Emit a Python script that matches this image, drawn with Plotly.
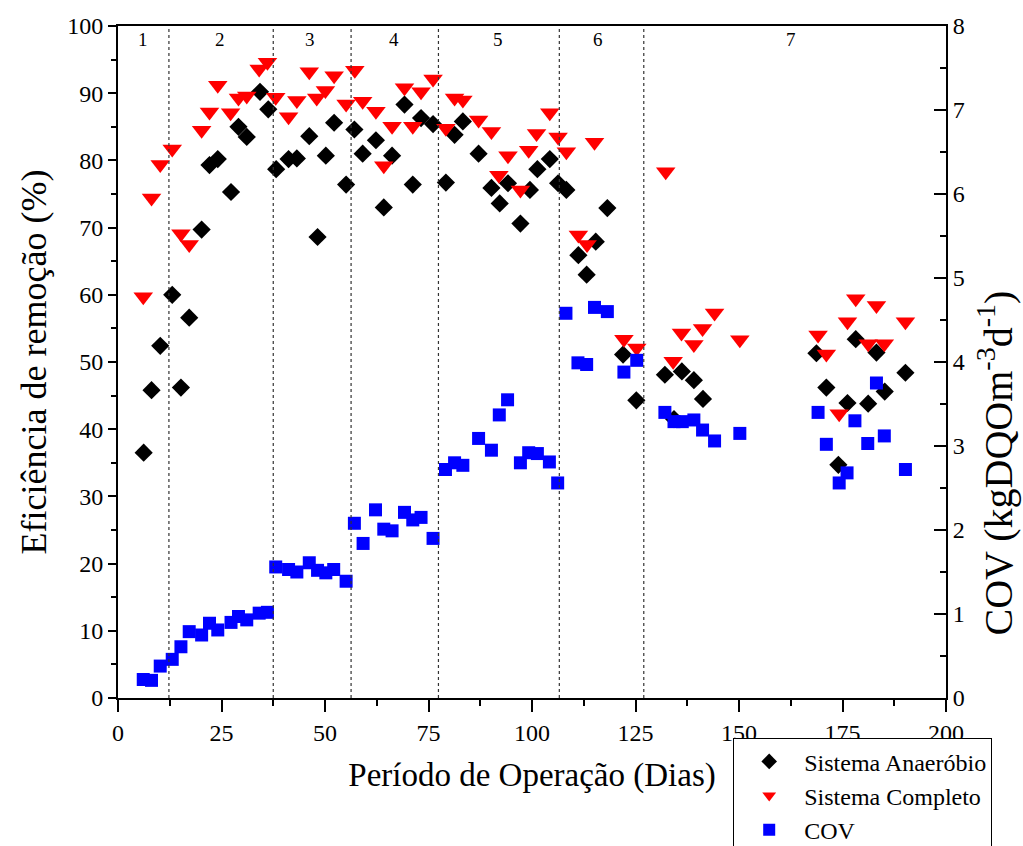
import plotly.graph_objects as go

# ---- data ----
anaer_days = [6.2, 8.1, 10.2, 13.1, 15.2, 17.2, 20.2, 22.1, 24.1, 27.3, 29.1, 31.1, 34.3, 36.3,
              38.2, 41.2, 43.2, 46.2, 48.2, 50.2, 52.2, 55.1, 57.1, 59.1, 62.3, 64.2, 66.2, 69.2,
              71.2, 73.2, 76.1, 79.2, 81.3, 83.3, 87.1, 90.2, 92.2, 94.2, 97.2, 99.5, 101.3, 104.3,
              106.3, 108.3, 111.2, 113.2, 115.4, 118.2, 122.0, 125.2, 132.1, 134.3, 136.2, 139.1,
              141.3, 168.7, 171.1, 174.0, 176.2, 178.2, 181.2, 183.2, 185.2, 190.2]
anaer_eff = [36.5, 45.8, 52.4, 60.0, 46.2, 56.6, 69.7, 79.3, 80.2, 75.3, 85.0, 83.5, 90.2, 87.6,
             78.7, 80.2, 80.3, 83.6, 68.6, 80.7, 85.6, 76.4, 84.6, 81.0, 83.0, 73.0, 80.7, 88.3,
             76.4, 86.3, 85.4, 76.7, 83.8, 85.8, 81.0, 75.9, 73.6, 76.6, 70.6, 75.6, 78.7, 80.2,
             76.6, 75.6, 65.9, 63.0, 67.9, 72.9, 51.1, 44.3, 48.1, 41.5, 48.6, 47.3,
             44.5, 51.3, 46.2, 34.7, 43.9, 53.4, 43.8, 51.4, 45.6, 48.4]

comp_days = [6.1, 8.1, 10.2, 13.1, 15.2, 17.2, 20.2, 22.1, 24.1, 27.2, 29.1, 31.1, 34.1, 36.1,
             38.1, 41.2, 43.2, 46.2, 48.0, 50.1, 52.2, 55.1, 57.2, 59.1, 62.3, 64.2, 66.2, 69.2,
             71.2, 73.2, 76.1, 79.2, 81.3, 83.3, 87.1, 90.2, 92.0, 94.2, 97.2, 99.2, 101.1, 104.3,
             106.3, 108.3, 111.2, 113.3, 115.1, 122.2, 125.3, 132.3, 134.1, 136.1, 139.1, 141.2,
             144.1, 150.2, 169.1, 171.1, 174.2, 176.2, 178.2, 181.2, 183.2, 185.1, 190.2]
comp_eff = [59.7, 74.4, 79.4, 81.7, 69.1, 67.5, 84.5, 87.2, 91.2, 87.1, 89.3, 89.6, 93.6, 94.6,
            89.4, 86.5, 88.9, 93.2, 89.3, 90.4, 92.6, 88.4, 93.4, 88.8, 87.3, 79.2, 85.1, 90.8,
            85.1, 90.2, 92.1, 84.8, 89.3, 89.0, 86.0, 84.3, 77.8, 80.7, 75.6, 81.5, 84.0, 87.1,
            83.5, 81.3, 68.9, 67.5, 82.7, 53.4, 52.1, 78.3, 50.1, 54.3, 52.6, 55.0,
            57.3, 53.3, 54.0, 51.2, 42.3, 56.0, 59.4, 52.7, 58.4, 52.7, 56.0]

cov_days = [6.1, 8.1, 10.2, 13.1, 15.2, 17.2, 20.2, 22.1, 24.1, 27.3, 29.1, 31.1, 34.1, 36.1,
            38.1, 41.2, 43.2, 46.2, 48.2, 50.2, 52.1, 55.1, 57.1, 59.2, 62.2, 64.2, 66.2, 69.2,
            71.2, 73.2, 76.1, 79.1, 81.3, 83.3, 87.1, 90.2, 92.1, 94.1, 97.2, 99.2, 101.3, 104.2,
            106.2, 108.2, 111.1, 113.2, 115.1, 118.2, 122.2, 125.3, 132.1, 134.3, 136.3, 139.1,
            141.2, 144.1, 150.2, 169.1, 171.1, 174.2, 176.1, 178.0, 181.1, 183.2, 185.1, 190.2]
cov_vals = [0.22, 0.21, 0.38, 0.46, 0.61, 0.79, 0.75, 0.89, 0.81, 0.90, 0.97, 0.93, 1.01, 1.02,
            1.56, 1.53, 1.50, 1.61, 1.52, 1.49, 1.53, 1.39, 2.08, 1.84, 2.24, 2.01, 1.99, 2.21,
            2.12, 2.15, 1.90, 2.72, 2.80, 2.77, 3.09, 2.95, 3.37, 3.55, 2.80, 2.92, 2.91, 2.81,
            2.56, 4.58, 3.99, 3.97, 4.65, 4.60, 3.88, 4.02, 3.40, 3.29, 3.29, 3.31,
            3.19, 3.06, 3.15, 3.40, 3.02, 2.56, 2.68, 3.30, 3.03, 3.75, 3.12, 2.72]

phase_bounds = [12.3, 37.5, 56.3, 77.4, 106.6, 127.0]
phase_labels = ["1", "2", "3", "4", "5", "6", "7"]
phase_label_x = [6.0, 24.7, 46.4, 66.7, 91.7, 116.0, 162.5]

FONT = "Liberation Serif"

fig = go.Figure()
fig.add_trace(go.Scatter(x=anaer_days, y=anaer_eff, mode="markers", name="Sistema Anaeróbio",
                         marker=dict(symbol="diamond", size=14, color="black")))
fig.add_trace(go.Scatter(x=comp_days, y=comp_eff, mode="markers", name="Sistema Completo",
                         marker=dict(symbol="triangle-down", size=17, color="#ff0000")))
fig.add_trace(go.Scatter(x=cov_days, y=cov_vals, mode="markers", name="COV", yaxis="y2",
                         marker=dict(symbol="square", size=13, color="#0000ff")))

for b in phase_bounds:
    fig.add_shape(type="line", x0=b, x1=b, y0=0, y1=100, xref="x", yref="y",
                  line=dict(color="#333333", width=1.2, dash="dot"))

for t, xv in zip(phase_labels, phase_label_x):
    fig.add_annotation(x=xv, y=98, xref="x", yref="y", text=t, showarrow=False,
                       font=dict(family=FONT, size=19, color="black"))

# right-axis title (placed as annotation to match the reference position)
fig.add_annotation(x=1.060, y=0.35, xref="paper", yref="paper",
                   text="COV (kgDQOm<sup>-3</sup>d<sup>-1</sup>)", textangle=-90,
                   showarrow=False, xanchor="center", yanchor="middle",
                   font=dict(family=FONT, size=40, color="black"))

fig.update_layout(
    width=1023, height=846,
    margin=dict(l=118, r=77, t=26, b=148, autoexpand=False),
    paper_bgcolor="white", plot_bgcolor="white",
    font=dict(family=FONT, size=24, color="black"),
    showlegend=True,
    legend=dict(x=0.743, y=-0.060, xanchor="left", yanchor="top",
                bordercolor="black", borderwidth=1, bgcolor="white",
                font=dict(family=FONT, size=24), itemsizing="constant",
                itemwidth=60, tracegroupgap=0),
    xaxis=dict(range=[0, 200], tickvals=[0, 25, 50, 75, 100, 125, 150, 175, 200],
               showline=True, linecolor="black", linewidth=2, mirror=True,
               ticks="outside", ticklen=12, tickwidth=2, tickcolor="black",
               minor=dict(dtick=12.5, tick0=0, ticks="outside", ticklen=6, tickwidth=2, tickcolor="black"),
               showgrid=False, zeroline=False,
               title=dict(text="Período de Operação (Dias)", font=dict(size=33), standoff=18)),
    yaxis=dict(range=[0, 100], dtick=10, tick0=0,
               showline=True, linecolor="black", linewidth=2,
               ticks="outside", ticklen=8, tickwidth=2, tickcolor="black",
               minor=dict(dtick=5, ticks="outside", ticklen=5, tickwidth=2, tickcolor="black"),
               showgrid=False, zeroline=False,
               title=dict(text="Eficiência de remoção (%)", font=dict(size=36), standoff=10)),
    yaxis2=dict(range=[0, 8], dtick=1, tick0=0, overlaying="y", side="right",
                showline=True, linecolor="black", linewidth=2,
                ticks="inside", ticklen=12, tickwidth=2, tickcolor="black",
                minor=dict(dtick=0.5, ticks="inside", ticklen=6, tickwidth=2, tickcolor="black"),
                showgrid=False, zeroline=False),
)

fig.write_html("out.html")
